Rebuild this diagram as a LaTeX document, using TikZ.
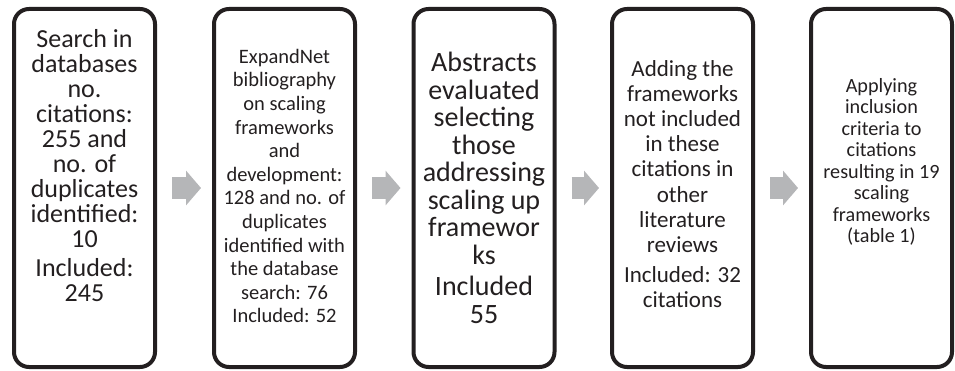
\documentclass[tikz,border=0pt]{standalone}
\usepackage{fontspec}
\setmainfont{Carlito}
\usetikzlibrary{arrows.meta}
\definecolor{boxline}{RGB}{35,31,32}
\definecolor{arrowgrey}{RGB}{181,182,184}
\newcommand{\fs}[2]{\fontsize{#1pt}{#2pt}\selectfont}

\begin{document}
\begin{tikzpicture}
[x=1pt,y=1pt,
stage/.style={rectangle, draw=boxline, line width=4pt, rounded corners=15pt, minimum width=141pt, minimum height=358pt, inner sep=0pt},
stage text/.style={align=center, inner sep=0pt, text=boxline},
flow/.style={color=arrowgrey, line width=22pt, -{Triangle[length=15pt,width=34pt,fill=arrowgrey]}, shorten <=15pt, shorten >=11pt}]
  \useasboundingbox (0,0) rectangle (955,370);
  % the five boxes
  \node[stage] (search) at (84.5,182) {};
  \node[stage] (expandnet) at (284.5,182) {};
  \node[stage] (abstracts) at (484,182) {};
  \node[stage] (adding) at (682.5,182) {};
  \node[stage] (criteria) at (881.5,182) {};
  % texts inside them
  \node[stage text, font=\fs{26}{25}] (searchtext) at (84.5,204) {Search in\\ databases\\ no.\\ citations:\\ 255 and\\ no. of\\ duplicates\\ identified:\\ 10\\[4pt] Included:\\ 245};
  \node[stage text, font=\fs{20.5}{23.6}] (expandtext) at (284.5,184) {ExpandNet\\ bibliography\\ on scaling\\ frameworks\\ and\\ development:\\ 128 and no. of\\ duplicates\\ identified with\\ the database\\ search: 76\\ Included: 52};
  \node[stage text, font=\fs{28}{27.5}] (abstracttext) at (484,182) {Abstracts\\ evaluated\\ selecting\\ those\\ addressing\\ scaling up\\ framewor\\ ks\\[4pt] Included\\ 55};
  \node[stage text, font=\fs{23}{25.2}] (addingtext) at (682.5,186) {Adding the\\ frameworks\\ not included\\ in these\\ citations in\\ other\\ literature\\ reviews\\[5pt] Included: 32\\ citations};
  \node[stage text, font=\fs{20.2}{21.5}] (criteriatext) at (881.5,208) {Applying\\ inclusion\\ criteria to\\ citations\\ resulting in 19\\ scaling\\ frameworks\\ (table 1)};
  % grey arrows
  \draw [flow] (search) -- (expandnet);
  \draw [flow] (expandnet) -- (abstracts);
  \draw [flow] (abstracts) -- (adding);
  \draw [flow] (adding) -- (criteria);
\end{tikzpicture}
\end{document}
